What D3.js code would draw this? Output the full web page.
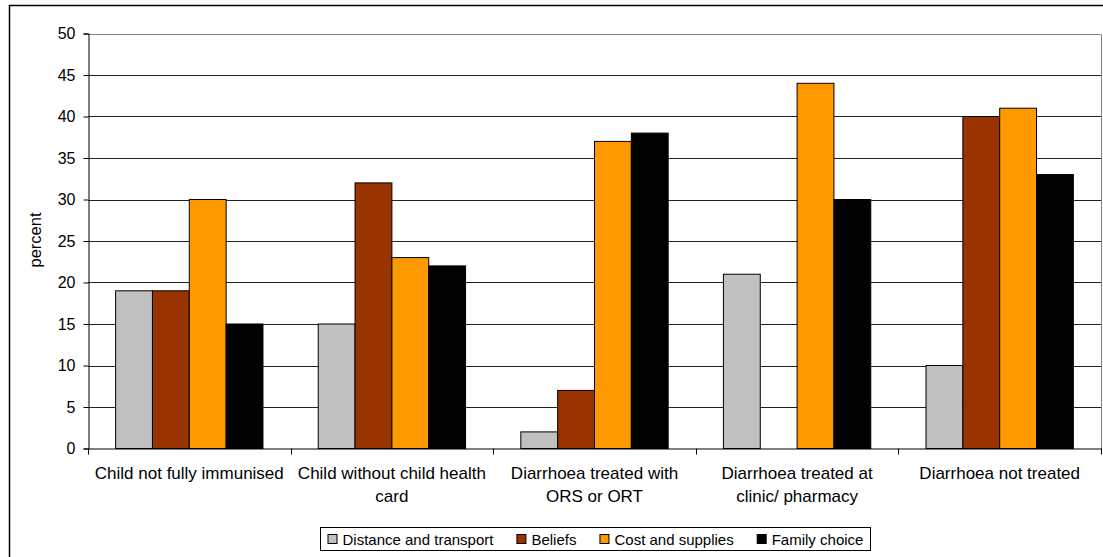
<!DOCTYPE html>
<html>
<head>
<meta charset="utf-8">
<script src="https://cdn.jsdelivr.net/npm/d3@7"></script>
<style>
  html, body { margin: 0; padding: 0; background: #fff; }
  svg { display: block; font-family: Arial, "Liberation Sans", sans-serif; }
</style>
</head>
<body>
<svg id="chart" width="1103" height="557"></svg>
<script>
// Reasons given for each health-care gap, percent of respondents
const categories = [
  "Child not fully immunised",
  "Child without child health card",
  "Diarrhoea treated with ORS or ORT",
  "Diarrhoea treated at clinic/ pharmacy",
  "Diarrhoea not treated"
];
const seriesNames = ["Distance and transport", "Beliefs", "Cost and supplies", "Family choice"];
const distanceTransport = [19, 15, 2, 21, 10];
const beliefs = [19, 32, 7, 0, 40];
const costSupplies = [30, 23, 37, 44, 41];
const familyChoice = [15, 22, 38, 30, 33];
const yTicks = [0, 5, 10, 15, 20, 25, 30, 35, 40, 45, 50];
const seriesColors = ["#C0C0C0", "#993300", "#FF9900", "#000000"];

const seriesValues = [distanceTransport, beliefs, costSupplies, familyChoice];

const svg = d3.select("#chart");
const plot = { left: 88, right: 1101, top: 33.5, bottom: 448.5 };

// Outer chart frame
svg.append("rect")
  .attr("x", 9.5).attr("y", 5.5)
  .attr("width", 1110).attr("height", 580)
  .attr("fill", "none").attr("stroke", "#000").attr("stroke-width", 1.5);

const x0 = d3.scaleBand().domain(categories).range([plot.left, plot.right]).paddingInner(0).paddingOuter(0);
// 150% gap between groups: four bars plus 1.5 bar widths of spacing
const bw = x0.bandwidth() / 5.5;
const x1 = d3.scaleBand().domain(seriesNames).range([bw * 0.75, bw * 4.75]).padding(0);
const y = d3.scaleLinear().domain([0, 50]).range([plot.bottom, plot.top]);

// Gridlines
svg.append("g").selectAll("line").data(yTicks.filter(t => t > 0)).join("line")
  .attr("x1", plot.left).attr("x2", plot.right)
  .attr("y1", d => Math.round(y(d)) + 0.5).attr("y2", d => Math.round(y(d)) + 0.5)
  .attr("stroke", d => d === 50 ? "#808080" : "#222").attr("stroke-width", 1);

// Plot area right edge
svg.append("line")
  .attr("x1", plot.right + 0.5).attr("x2", plot.right + 0.5)
  .attr("y1", Math.round(y(50)) + 0.5).attr("y2", plot.bottom)
  .attr("stroke", "#808080");

// Bars
const groups = svg.append("g").selectAll("g").data(categories).join("g")
  .attr("transform", d => `translate(${x0(d)},0)`);
groups.selectAll("rect")
  .data((c, i) => seriesNames.map((s, j) => ({ s, j, v: seriesValues[j][i] })).filter(d => d.v > 0))
  .join("rect")
  .attr("x", d => x1(d.s))
  .attr("y", d => y(d.v))
  .attr("width", x1.bandwidth())
  .attr("height", d => y(0) - y(d.v))
  .attr("fill", d => seriesColors[d.j])
  .attr("stroke", "#000").attr("stroke-width", 1);

// Y axis
const yAxis = d3.axisLeft(y).tickValues(yTicks).tickSize(5).tickPadding(8);
const gy = svg.append("g").attr("transform", `translate(${plot.left + 0.5},0)`).call(yAxis);
gy.select(".domain").attr("stroke", "#000");
gy.selectAll(".tick line").attr("stroke", "#000");
gy.selectAll(".tick text").attr("font-size", 16).attr("fill", "#000")
  .attr("font-family", "Arial, 'Liberation Sans', sans-serif");

// X axis with ticks on category boundaries
svg.append("line")
  .attr("x1", plot.left).attr("x2", plot.right + 1)
  .attr("y1", plot.bottom + 0.5).attr("y2", plot.bottom + 0.5)
  .attr("stroke", "#000");
const bounds = categories.map(c => x0(c)).concat([plot.right]);
svg.append("g").selectAll("line").data(bounds).join("line")
  .attr("x1", d => Math.round(d) + 0.5).attr("x2", d => Math.round(d) + 0.5)
  .attr("y1", plot.bottom).attr("y2", plot.bottom + 6)
  .attr("stroke", "#000");

// Category labels, wrapped to the band width
const labelG = svg.append("g").attr("font-size", 17).attr("fill", "#000").attr("text-anchor", "middle");
categories.forEach(c => {
  const cx = x0(c) + x0.bandwidth() / 2;
  const t = labelG.append("text").attr("x", cx).attr("y", 479);
  const words = c.split(" ");
  let lines = [], line = [];
  const probe = labelG.append("text").attr("visibility", "hidden");
  words.forEach(w => {
    line.push(w);
    probe.text(line.join(" "));
    if (probe.node().getComputedTextLength() > 195 && line.length > 1) {
      line.pop();
      lines.push(line.join(" "));
      line = [w];
    }
  });
  lines.push(line.join(" "));
  probe.remove();
  lines.forEach((l, i) => {
    t.append("tspan").attr("x", cx).attr("y", 479 + i * 22.5).text(l);
  });
});

// Y axis title
svg.append("text")
  .attr("transform", `translate(41,240) rotate(-90)`)
  .attr("text-anchor", "middle").attr("font-size", 16.5).attr("fill", "#000")
  .text("percent");

// Legend: box first, then swatches and names laid out in sequence
const legendBox = svg.append("rect");
const legend = svg.append("g").attr("font-size", 15).attr("fill", "#000");
const itemGap = 23;
let lx = 0;
seriesNames.forEach((s, j) => {
  const g = legend.append("g");
  g.append("rect").attr("x", lx + 0.5).attr("y", -4.5).attr("width", 9).attr("height", 9)
    .attr("fill", seriesColors[j]).attr("stroke", "#000").attr("stroke-width", 1);
  const tx = g.append("text").attr("x", lx + 15).attr("y", 5.5).text(s);
  lx += 15 + tx.node().getComputedTextLength() + itemGap;
});
const legendW = lx - itemGap;
const boxW = Math.round(legendW + 14);
const legendCx = (plot.left + plot.right) / 2;
const boxX = Math.round(legendCx - boxW / 2) + 0.5;
legendBox
  .attr("x", boxX).attr("y", 527.5).attr("width", boxW).attr("height", 23)
  .attr("fill", "#fff").attr("stroke", "#000").attr("stroke-width", 1);
legend.attr("transform", `translate(${boxX + 7},${539})`);
</script>
</body>
</html>
